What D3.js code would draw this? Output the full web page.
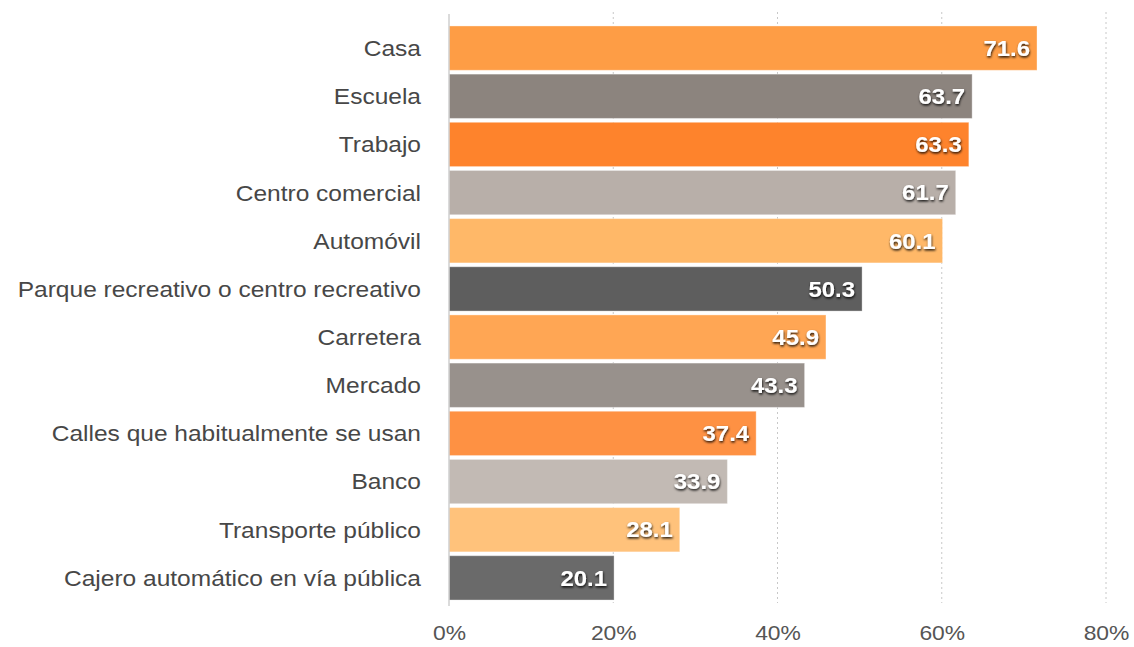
<!DOCTYPE html>
<html>
<head>
<meta charset="utf-8">
<script src="https://cdn.jsdelivr.net/npm/d3@7"></script>
<style>
  body { margin: 0; background: #fff; }
  svg text { font-family: "Liberation Sans", Arial, sans-serif; }
</style>
</head>
<body>
<script>
// data
var categories = ["Casa", "Escuela", "Trabajo", "Centro comercial", "Automóvil",
    "Parque recreativo o centro recreativo", "Carretera", "Mercado",
    "Calles que habitualmente se usan", "Banco", "Transporte público",
    "Cajero automático en vía pública"];
var values = [71.6, 63.7, 63.3, 61.7, 60.1, 50.3, 45.9, 43.3, 37.4, 33.9, 28.1, 20.1];
var colors = ["#fe9d45", "#8c847e", "#fe832c", "#b8afa9", "#ffb868", "#5e5e5e",
    "#ffa654", "#98918c", "#fe9143", "#c2bab4", "#ffc27b", "#6a6a6a"];
var ticks = [0, 20, 40, 60, 80];

var width = 1134, height = 647;
// plot edges (don't use "top", it's window.top)
var plotLeft = 449, plotRight = 1106, plotTop = 25, plotBottom = 601;
// the original text looks stretched sideways a bit
var stretch = 1.115;

var svg = d3.select("body").append("svg")
    .attr("width", width)
    .attr("height", height);

var defs = svg.append("defs");
var f = defs.append("filter").attr("id", "shadow")
    .attr("x", "-20%").attr("y", "-40%").attr("width", "140%").attr("height", "180%");
f.append("feDropShadow").attr("dx", 0.5).attr("dy", 1.5).attr("stdDeviation", 0.9)
    .attr("flood-color", "#000").attr("flood-opacity", 0.9);

var x = d3.scaleLinear().domain([0, 80]).range([plotLeft, plotRight]);
var y = d3.scaleBand().domain(categories).range([plotTop, plotBottom]).paddingInner(0.08).paddingOuter(0.02);

// dotted gridlines
svg.append("g").selectAll("line")
    .data(ticks.slice(1))
    .join("line")
    .attr("x1", d => x(d)).attr("x2", d => x(d))
    .attr("y1", 12).attr("y2", 603)
    .attr("stroke", "#c8c8c8")
    .attr("stroke-width", 1)
    .attr("stroke-dasharray", "2,3");

// bars
svg.append("g").selectAll("rect")
    .data(values)
    .join("rect")
    .attr("x", x(0))
    .attr("y", (d, i) => y(categories[i]))
    .attr("width", d => x(d) - x(0))
    .attr("height", y.bandwidth())
    .attr("fill", (d, i) => colors[i])
    .attr("stroke", "rgba(255,255,255,0.35)")
    .attr("stroke-width", 1);

// vertical axis line
svg.append("line")
    .attr("x1", plotLeft).attr("x2", plotLeft)
    .attr("y1", 14).attr("y2", 606)
    .attr("stroke", "#cfcfcf").attr("stroke-width", 1.5);

// category labels
svg.append("g").selectAll("text")
    .data(categories)
    .join("text")
    .attr("transform", d => "translate(421," + (y(d) + y.bandwidth() / 2) + ") scale(" + stretch + ",1)")
    .attr("dy", "0.36em")
    .attr("text-anchor", "end")
    .attr("font-size", 22)
    .attr("fill", "#474747")
    .text(d => d);

// value labels
svg.append("g").selectAll("text")
    .data(values)
    .join("text")
    .attr("transform", (d, i) => "translate(" + (x(d) - 7) + "," + (y(categories[i]) + y.bandwidth() / 2) + ") scale(" + stretch + ",1)")
    .attr("dy", "0.36em")
    .attr("text-anchor", "end")
    .attr("font-size", 21.5)
    .attr("font-weight", "bold")
    .attr("fill", "#fff")
    .attr("filter", "url(#shadow)")
    .text(d => d.toFixed(1));

// x axis tick labels
var xAxis = d3.axisBottom(x).tickValues(ticks).tickFormat(d => d + "%").tickSize(0).tickPadding(0);
var ax = svg.append("g").attr("transform", "translate(0,625)").call(xAxis);
ax.select(".domain").remove();
ax.selectAll("text")
    .attr("font-size", 20.5)
    .attr("fill", "#555")
    .attr("font-family", "'Liberation Sans', Arial, sans-serif")
    .attr("transform", "scale(" + stretch + ",1)");
</script>
</body>
</html>
